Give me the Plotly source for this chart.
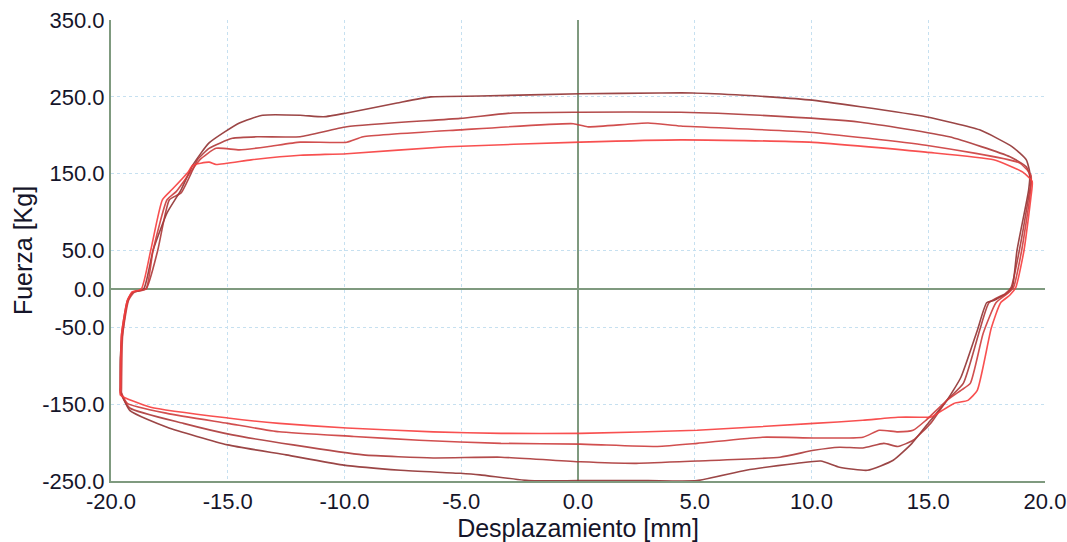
import plotly.graph_objects as go

# lazo exterior (mas oscuro)
loop_a_x = [-19.6, -19.6, -19.5, -19.3, -19.1, -18.6, -18.2, -17.6, -17.0, -16.5, -15.8, -14.5,
            -13.5, -11.9, -10.9, -9.9, -7.75, -6.3, -4.2, 0.1, 3.5, 4.9, 7.1, 9.9, 12.1, 14.9,
            17.2, 18.6, 19.2, 19.35, 19.3, 18.8, 18.6, 18.4, 17.8, 17.5, 17.1, 16.4, 15.8, 15.1,
            14.3, 13.5, 12.4, 11.2, 10.4, 9.4, 7.2, 5.1, 3.0, 0.0, -2.1, -4.2, -5.05, -7.6,
            -10.1, -12.5, -15.0, -17.6, -19.2, -19.6, -19.6]
loop_a_y = [-128, -90, -57, -18, -5, 0, 50, 99, 129, 161, 190, 216,
            226, 226, 224, 229, 242, 250, 251, 254, 255, 255, 252, 246, 237, 224,
            207, 185, 168, 151, 129, 50, 2, -5, -15, -18, -54, -115, -145, -171,
            -201, -223, -236, -232, -224, -227, -236, -249.5, -249.5, -249.5, -249.5, -242, -240, -236,
            -229, -216, -203, -180, -158, -132, -128]

loop_b_x = [-19.6, -19.55, -19.3, -19.05, -18.5, -18.0, -17.5, -17.0, -16.5, -16.3, -15.8, -14.8,
            -13.7, -11.9, -9.9, -5.05, -2.8, 0.1, 4.4, 7.8, 12.1, 15.9, 18.5, 19.2, 19.4, 19.3,
            18.9, 18.55, 18.3, 17.6, 17.2, 16.5, 15.8, 15.1, 14.35, 13.7, 13.1, 12.2, 11.2, 10.1,
            8.65, 5.1, 2.5, 0.1, -3.3, -6.2, -9.2, -12.2, -14.8, -16.9, -19.2, -19.6, -19.6]
loop_b_y = [-128, -60, -15, -4, 0, 50, 116, 125, 155, 168, 183, 196,
            198, 198, 211, 222, 229, 230, 230, 226, 217, 198, 172, 159, 140, 120,
            50, 2, -6, -18, -54, -123, -145, -175, -197, -205, -201, -207, -206, -210,
            -219, -224, -227, -225, -219, -220, -216, -203, -190, -175, -155, -135, -128]

loop_c_x = [-19.55, -19.5, -19.25, -19.0, -18.5, -18.2, -17.6, -17.2, -16.6, -16.2, -15.5, -14.5,
            -13.3, -11.9, -9.9, -9.2, -5.05, -0.2, 0.4, 3.0, 4.4, 9.9, 14.9, 18.9, 19.4, 19.35,
            19.0, 18.65, 18.4, 17.9, 17.35, 16.8, 16.4, 15.8, 14.9, 14.35, 13.7, 12.9, 12.2, 10.1,
            7.9, 5.1, 3.4, 0.1, -3.3, -6.8, -9.6, -12.8, -15.0, -17.6, -19.3, -19.55, -19.55]
loop_c_y = [-130, -60, -15, -4, 0, 50, 116, 127, 152, 168, 183, 181,
            185, 191, 191, 198, 207, 215, 211, 216, 212, 204, 187, 164, 148, 120,
            50, 2, -6, -18, -58, -123, -132, -145, -171, -184, -186, -184, -193, -194,
            -193, -201, -205, -202, -201, -197, -192, -186, -175, -162, -149, -135, -130]

# lazo interior (rojo mas claro)
loop_d_x = [-19.6, -19.55, -19.3, -19.1, -18.7, -18.3, -17.8, -17.4, -16.7, -16.5, -15.8, -15.5,
            -14.0, -11.9, -9.9, -5.6, 0.1, 4.4, 9.9, 14.9, 17.8, 19.05, 19.45, 19.4, 19.1,
            18.75, 18.5, 18.1, 17.7, 17.1, 16.7, 16.1, 15.1, 14.8, 13.7, 12.2, 10.1, 5.1, 0.1,
            -3.3, -6.2, -9.9, -12.8, -15.0, -18.3, -19.6, -19.6]
loop_d_y = [-130, -60, -15, -4, 0, 50, 116, 129, 152, 161, 165, 162,
            168, 174, 176, 185, 191, 194, 191, 178, 168, 152, 140, 120, 50,
            2, -8, -18, -51, -132, -145, -149, -167, -167, -167, -171, -175, -184, -188,
            -188, -186, -181, -175, -168, -154, -138, -130]

loops = [
    (loop_a_x, loop_a_y, "rgb(145,50,50)"),
    (loop_b_x, loop_b_y, "rgb(172,56,56)"),
    (loop_c_x, loop_c_y, "rgb(205,60,60)"),
    (loop_d_x, loop_d_y, "rgb(248,62,62)"),
]

x_ticks = [-20, -15, -10, -5, 0, 5, 10, 15, 20]
y_ticks = [350, 250, 150, 50, 0, -50, -150, -250]

fig = go.Figure()
for lx, ly, color in loops:
    fig.add_trace(go.Scatter(
        x=lx, y=ly, mode="lines",
        line=dict(color=color, width=1.6, shape="spline", smoothing=0.5),
        opacity=0.9, showlegend=False, hoverinfo="skip"
    ))

axis_green = "#7f9a7f"
grid_blue = "#c6e0f0"
font_col = "#15152a"

fig.update_xaxes(
    range=[-20, 20], tickvals=x_ticks, ticktext=[f"{v:.1f}" for v in x_ticks],
    showgrid=True, gridcolor=grid_blue, griddash="dot", gridwidth=1,
    zeroline=True, zerolinecolor=axis_green, zerolinewidth=2,
    showline=True, linecolor=axis_green, linewidth=2,
    tickfont=dict(size=22, color=font_col),
    title=dict(text="Desplazamiento [mm]", font=dict(size=25, color=font_col), standoff=4),
    automargin=False,
)
fig.update_yaxes(
    range=[-250, 350], tickvals=y_ticks, ticktext=[f"{v:.1f}" for v in y_ticks],
    showgrid=True, gridcolor=grid_blue, griddash="dot", gridwidth=1,
    zeroline=True, zerolinecolor=axis_green, zerolinewidth=2,
    showline=True, linecolor=axis_green, linewidth=2,
    tickfont=dict(size=22, color=font_col),
    title=dict(text="Fuerza [Kg]", font=dict(size=25, color=font_col), standoff=2),
    automargin=False,
)

fig.update_layout(
    width=1067, height=542,
    margin=dict(l=111, r=22, t=20, b=61),
    plot_bgcolor="white", paper_bgcolor="white",
    font=dict(family="Liberation Sans, Arial, sans-serif", color=font_col),
)

fig.write_html("out.html", config={"displayModeBar": False},
               post_script="document.body.style.margin='0';")
